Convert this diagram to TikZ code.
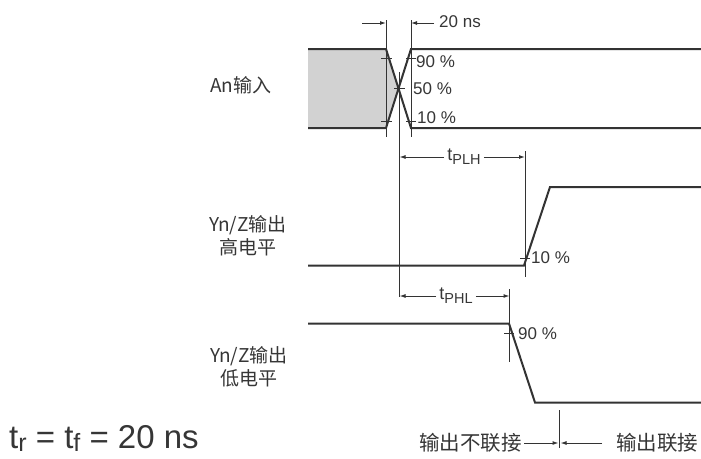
\documentclass[tikz,border=0pt]{standalone}
\usepackage{fontspec}
\setmainfont{Liberation Sans}
\newfontfamily\cjk{Noto Sans CJK SC}
\usetikzlibrary{arrows.meta}
\definecolor{ink}{HTML}{333333}
\definecolor{txt}{HTML}{363636}
\definecolor{greyfill}{HTML}{D2D2D2}
\tikzset{
  sig/.style={draw=ink, line width=2pt, line join=miter},
  refl/.style={draw=ink, line width=1pt},
  tick/.style={draw=ink, line width=1pt},
  dim/.style={draw=ink, line width=1pt, -{Latex[length=6pt,width=4pt]}},
  lbl/.style={text=txt, font=\fontsize{17}{17}\selectfont, inner sep=0pt},
  cn/.style={text=txt, font=\cjk\fontsize{19}{23}\selectfont, inner sep=0pt, align=center},
  cnb/.style={text=txt, font=\cjk\fontsize{20.5}{23}\selectfont, inner sep=0pt},
}
% \tsub{main}{sub}{sub size}{drop}
\newcommand{\tsub}[4]{#1\raisebox{-#4}{\fontsize{#3}{#3}\selectfont #2}}
\begin{document}
\begin{tikzpicture}[x=1pt,y=-1pt]
\useasboundingbox (0,0) rectangle (701,458);
\fill[white] (0,0) rectangle (701,458);

% ---------- An input ----------
\fill[greyfill] (308,49) -- (386,49) -- (398.5,88.5) -- (386,128) -- (308,128) -- cycle;
\draw[sig] (308,49) -- (386,49) -- (411,128) -- (701,128);
\draw[sig] (308,128) -- (386,128) -- (411,49) -- (701,49);
\draw[refl] (386,20) -- (386,137);
\draw[refl] (411,20) -- (411,137);
\draw[refl] (399.5,72) -- (399.5,297);
% ticks
\draw[tick] (381,58) -- (392,58);
\draw[tick] (406,58) -- (416,58);
\draw[tick] (394,88.5) -- (405,88.5);
\draw[tick] (381,121) -- (392,121);
\draw[tick] (406,121) -- (416,121);
% 20 ns
\coordinate (a1) at (362,23);
\coordinate (a1e) at (386,23);
\coordinate (a2) at (434,23);
\coordinate (a2e) at (411,23);
\draw[dim] (a1) -- (a1e);
\draw[dim] (a2) -- (a2e);
\node[lbl, anchor=west] (ns) at (439,22) {20 ns};
\node[lbl, anchor=west] (p90) at (416,62) {90 \%};
\node[lbl, anchor=west] (p50) at (413,89) {50 \%};
\node[lbl, anchor=west] (p10) at (417,118) {10 \%};
\node[cn] (an) at (241,85) {An输入};

% ---------- Yn/Z high ----------
\draw[sig] (308,265.5) -- (524,265.5) -- (550,187) -- (701,187);
\draw[refl] (525,151) -- (525,277);
\draw[tick] (520,258) -- (530,258);
\node[lbl, anchor=west] (q10) at (531,258) {10 \%};
\node[lbl, font=\fontsize{18}{18}\selectfont] (tplh) at (464,157) {\tsub{t}{PLH}{14.5}{4pt}};
\coordinate (b0) at (399.5,157);
\coordinate (b1) at (525,157);
\draw[dim] (tplh.west) ++(-3,0) -- (b0);
\draw[dim] (tplh.east) ++(3,0) -- (b1);
\node[cn] (yh) at (248,236) {Yn/Z输出\\高电平};

% ---------- Yn/Z low ----------
\draw[sig] (308,323.5) -- (509,323.5) -- (535,402.5) -- (701,402.5);
\draw[refl] (509.5,289) -- (509.5,362);
\draw[tick] (504,333) -- (514,333);
\node[lbl, anchor=west] (r90) at (518,334) {90 \%};
\node[lbl, font=\fontsize{18}{18}\selectfont] (tphl) at (456,296) {\tsub{t}{PHL}{14.5}{4pt}};
\coordinate (c0) at (399.5,296);
\coordinate (c1) at (509.5,296);
\draw[dim] (tphl.west) ++(-3,0) -- (c0);
\draw[dim] (tphl.east) ++(3,0) -- (c1);
\node[cn] (yl) at (249,367) {Yn/Z输出\\低电平};

% ---------- bottom ----------
\draw[refl] (559.5,410) -- (559.5,448);
\node[cnb, anchor=east] (nc) at (522,443) {输出不联接};
\node[cnb, anchor=west] (cc) at (616,443) {输出联接};
\coordinate (d1) at (558.5,443);
\coordinate (d2) at (560.5,443);
\draw[dim] (nc.east) ++(2,0) -- (d1);
\draw[dim] (cc.west) ++(-14,0) -- (d2);
\node[text=txt, font=\fontsize{33}{33}\selectfont, inner sep=0pt, anchor=base west] (tr) at (9,448)
  {\tsub{t}{r}{25}{3pt} = \tsub{t}{f}{25}{3pt} = 20 ns};
\end{tikzpicture}
\end{document}
